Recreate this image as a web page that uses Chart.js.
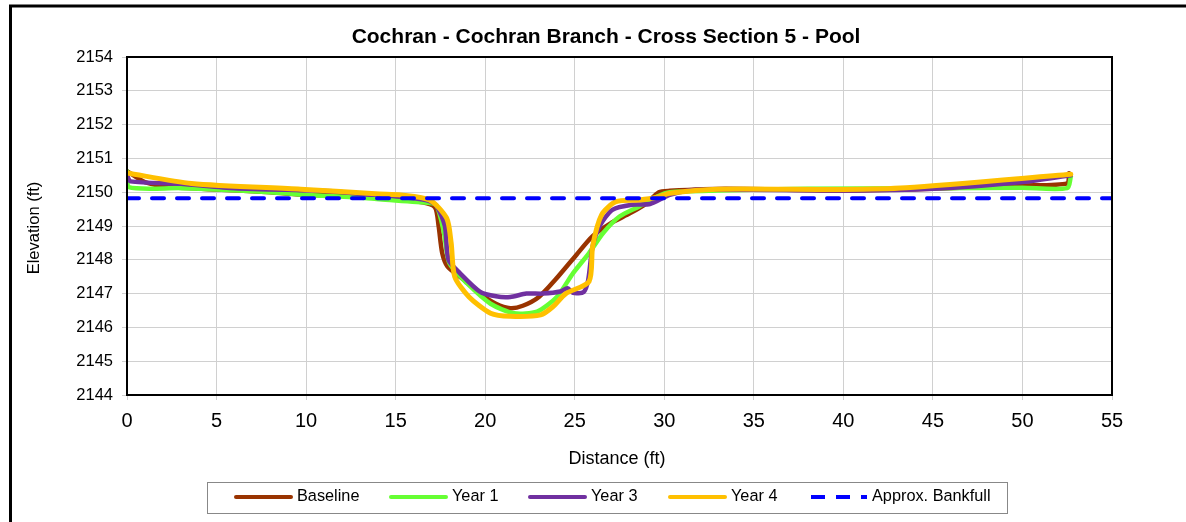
<!DOCTYPE html>
<html>
<head>
    <title>Cochran Branch - Cross Section 5</title>
    <script src="https://cdn.jsdelivr.net/npm/chart.js"></script>
    <style>
        body { margin: 0; background: #fff; }
    </style>
</head>
<body>
    <canvas id="myChart" width="1186" height="522"></canvas>
    <script>
        // station (ft) and elevation (ft) per survey
        var baselineX = [0, 1, 2.5, 5, 8, 10, 12, 15, 16.5, 17.2, 17.4, 17.6, 17.9, 18.7, 19.7, 20.6, 21.4, 22.1, 23.0, 23.9, 25.1, 26.0, 27.0, 28.1, 29.0, 29.7, 30.3, 33.4, 40, 45, 48, 50, 52.5, 52.6];
        var baselineY = [2150.62, 2150.3, 2150.15, 2150.08, 2150.0, 2149.92, 2149.9, 2149.8, 2149.7, 2149.55, 2149.0, 2148.2, 2147.8, 2147.45, 2147.0, 2146.7, 2146.57, 2146.64, 2146.9, 2147.4, 2148.15, 2148.7, 2149.08, 2149.38, 2149.67, 2150.0, 2150.04, 2150.1, 2150.05, 2150.1, 2150.16, 2150.2, 2150.26, 2150.56];

        var year1X = [0, 0.1, 3, 5, 8, 10, 13, 14.1, 16.9, 17.3, 17.7, 18.0, 19.0, 20.3, 21.6, 22.9, 24.0, 24.9, 25.8, 26.6, 27.5, 28.6, 29.6, 30.3, 33, 38, 45, 50, 52.5, 52.7];
        var year1Y = [2150.62, 2150.15, 2150.12, 2150.08, 2150.0, 2149.92, 2149.84, 2149.79, 2149.68, 2149.6, 2148.8, 2147.9, 2147.3, 2146.7, 2146.42, 2146.47, 2146.9, 2147.6, 2148.2, 2148.8, 2149.28, 2149.58, 2149.87, 2150.0, 2150.05, 2150.1, 2150.12, 2150.13, 2150.12, 2150.46];

        var year3X = [0, 0.2, 3, 6, 11.5, 13, 15, 16.8, 17.3, 17.75, 17.95, 18.6, 19.7, 20.6, 21.4, 22.3, 23.2, 24.2, 24.6, 24.9, 25.5, 25.75, 26.0, 26.4, 27.1, 28.2, 29.2, 30.3, 31.4, 33, 40, 45, 50, 52.7];
        var year3Y = [2150.5, 2150.32, 2150.25, 2150.12, 2150.03, 2149.95, 2149.88, 2149.75, 2149.58, 2149.0, 2148.0, 2147.6, 2147.06, 2146.92, 2146.9, 2147.0, 2147.0, 2147.06, 2147.16, 2147.02, 2147.05, 2147.4, 2148.4, 2149.0, 2149.48, 2149.63, 2149.65, 2149.92, 2150.05, 2150.08, 2150.05, 2150.1, 2150.3, 2150.5];

        var year4X = [0, 3.6, 9.7, 14.1, 15.3, 16.9, 17.85, 18.1, 18.3, 19.1, 20.3, 21.4, 23.1, 23.8, 24.5, 25.8, 26.0, 26.5, 27.3, 28.6, 29.6, 30.3, 33.0, 40, 43.5, 52.7];
        var year4Y = [2150.57, 2150.26, 2150.09, 2149.95, 2149.92, 2149.77, 2149.23, 2148.5, 2147.5, 2146.9, 2146.42, 2146.33, 2146.37, 2146.62, 2147.0, 2147.36, 2148.4, 2149.33, 2149.72, 2149.77, 2149.85, 2149.97, 2150.09, 2150.08, 2150.13, 2150.53];

        var bankfullX = [0, 55];
        var bankfullY = [2149.82, 2149.82];

        var seriesNames = ['Baseline', 'Year 1', 'Year 3', 'Year 4', 'Approx. Bankfull'];
        var seriesColors = ['#993300', '#66ff33', '#7030a0', '#ffc000', '#0000ff'];

        var xTicks = [0, 5, 10, 15, 20, 25, 30, 35, 40, 45, 50, 55];
        var yTicks = [2144, 2145, 2146, 2147, 2148, 2149, 2150, 2151, 2152, 2153, 2154];

        function pts(xs, ys) {
            return xs.map(function (x, i) { return { x: x, y: ys[i] }; });
        }

        var FONT = 'Arial, "Liberation Sans", sans-serif';

        var frame = {
            id: 'frame',
            afterDraw: function (chart) {
                var c = chart.ctx, a = chart.chartArea;
                c.save();
                // plot box
                c.strokeStyle = '#000';
                c.lineWidth = 2;
                c.strokeRect(a.left, a.top, a.right - a.left, a.bottom - a.top);
                // outer frame (only top and left show in the picture)
                c.lineWidth = 3;
                c.beginPath();
                c.moveTo(10.5, 522);
                c.lineTo(10.5, 6);
                c.lineTo(1186, 6);
                c.stroke();

                c.fillStyle = '#000';
                c.textAlign = 'center';
                c.textBaseline = 'middle';
                c.font = 'bold 21px ' + FONT;
                c.fillText('Cochran - Cochran Branch - Cross Section 5 - Pool', 606, 37);

                c.font = '18px ' + FONT;
                c.fillText('Distance (ft)', 617, 459);
                c.save();
                c.translate(34, 228);
                c.rotate(-Math.PI / 2);
                c.font = '16.5px ' + FONT;
                c.fillText('Elevation (ft)', 0, 0);
                c.restore();

                // legend
                c.strokeStyle = '#888';
                c.lineWidth = 1;
                c.strokeRect(207.5, 482.5, 800, 31);
                var lx = [236, 391, 530, 670, 811];
                var ly = 497;
                c.font = '16.3px ' + FONT;
                c.textAlign = 'left';
                for (var i = 0; i < seriesNames.length; i++) {
                    c.strokeStyle = seriesColors[i];
                    c.lineWidth = 4;
                    c.lineCap = 'round';
                    c.beginPath();
                    if (i === 4) {
                        c.lineCap = 'butt';
                        c.setLineDash([14, 11]);
                        c.moveTo(lx[i], ly);
                        c.lineTo(lx[i] + 56, ly);
                    } else {
                        c.moveTo(lx[i], ly);
                        c.lineTo(lx[i] + 55, ly);
                    }
                    c.stroke();
                    c.setLineDash([]);
                    c.fillStyle = '#000';
                    c.fillText(seriesNames[i], lx[i] + 61, ly);
                }
                c.restore();
            }
        };

        var ctx = document.getElementById('myChart').getContext('2d');
        var myChart = new Chart(ctx, {
            type: 'line',
            data: {
                datasets: [
                    { label: seriesNames[0], data: pts(baselineX, baselineY), borderColor: seriesColors[0], borderWidth: 4.5, order: 4 },
                    { label: seriesNames[1], data: pts(year1X, year1Y), borderColor: seriesColors[1], borderWidth: 4.5, order: 3 },
                    { label: seriesNames[2], data: pts(year3X, year3Y), borderColor: seriesColors[2], borderWidth: 4.5, order: 2 },
                    { label: seriesNames[3], data: pts(year4X, year4Y), borderColor: seriesColors[3], borderWidth: 5, order: 1 },
                    { label: seriesNames[4], data: pts(bankfullX, bankfullY), borderColor: seriesColors[4], borderWidth: 4, borderDash: [12, 13], tension: 0, order: 0 }
                ]
            },
            options: {
                responsive: false,
                animation: false,
                events: [],
                layout: { padding: { left: 0, top: 57, right: 74, bottom: 82 } },
                elements: {
                    point: { radius: 0 },
                    line: { tension: 0.25, fill: false, borderCapStyle: 'round', borderJoinStyle: 'round' }
                },
                plugins: {
                    legend: { display: false },
                    tooltip: { enabled: false }
                },
                scales: {
                    x: {
                        type: 'linear',
                        min: 0, max: 55,
                        afterBuildTicks: function (s) { s.ticks = xTicks.map(function (v) { return { value: v }; }); },
                        afterFit: function (s) { s.height = 45; },
                        ticks: { color: '#000', font: { size: 20, family: FONT }, padding: 9, maxRotation: 0,
                                 callback: function (v) { return String(v); } },
                        grid: { color: '#d0d0d0', tickLength: 5 },
                        border: { color: '#000', width: 2 }
                    },
                    y: {
                        min: 2144, max: 2154,
                        afterBuildTicks: function (s) { s.ticks = yTicks.map(function (v) { return { value: v }; }); },
                        afterFit: function (s) { s.width = 127; },
                        ticks: { color: '#000', font: { size: 16.5, family: FONT }, padding: 9,
                                 callback: function (v) { return String(v); } },
                        grid: { color: '#d0d0d0', tickLength: 5 },
                        border: { color: '#000', width: 2 }
                    }
                }
            },
            plugins: [frame]
        });
    </script>
</body>
</html>
